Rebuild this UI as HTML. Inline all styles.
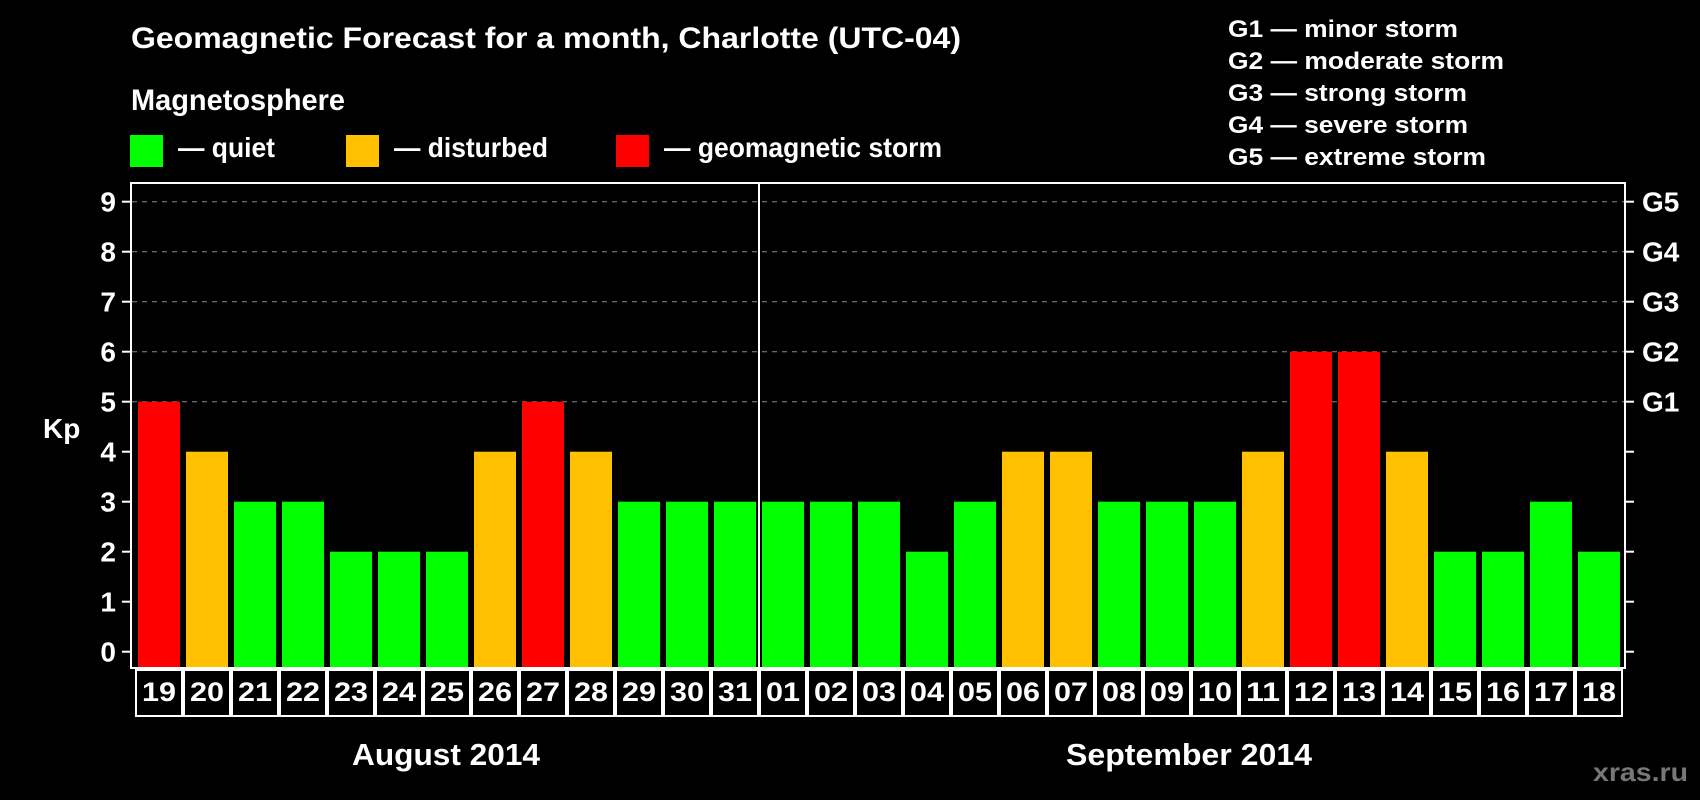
<!DOCTYPE html>
<html><head><meta charset="utf-8"><style>
html,body{margin:0;padding:0;background:#000;}
svg{display:block;font-family:"Liberation Sans",sans-serif;font-weight:bold;}
</style></head><body>
<svg id="chart" width="1700" height="800" viewBox="0 0 1700 800" xmlns="http://www.w3.org/2000/svg">
<rect x="0" y="0" width="1700" height="800" fill="#000"/>
<text x="131" y="48" font-size="30" fill="#fff" textLength="830" lengthAdjust="spacingAndGlyphs">Geomagnetic Forecast for a month, Charlotte (UTC-04)</text>
<text x="131" y="110" font-size="30" fill="#fff" textLength="214" lengthAdjust="spacingAndGlyphs">Magnetosphere</text>
<rect x="130" y="135" width="33" height="32" fill="#00ff00"/>
<text x="178" y="157" font-size="28" fill="#fff" textLength="97" lengthAdjust="spacingAndGlyphs">— quiet</text>
<rect x="346" y="135" width="33" height="32" fill="#ffc000"/>
<text x="394" y="157" font-size="28" fill="#fff" textLength="154" lengthAdjust="spacingAndGlyphs">— disturbed</text>
<rect x="616" y="135" width="33" height="32" fill="#ff0000"/>
<text x="664" y="157" font-size="28" fill="#fff" textLength="278" lengthAdjust="spacingAndGlyphs">— geomagnetic storm</text>
<g font-size="24" fill="#fff">
<text x="1228" y="37" textLength="230" lengthAdjust="spacingAndGlyphs">G1 — minor storm</text>
<text x="1228" y="69" textLength="276" lengthAdjust="spacingAndGlyphs">G2 — moderate storm</text>
<text x="1228" y="101" textLength="239" lengthAdjust="spacingAndGlyphs">G3 — strong storm</text>
<text x="1228" y="133" textLength="240" lengthAdjust="spacingAndGlyphs">G4 — severe storm</text>
<text x="1228" y="165" textLength="258" lengthAdjust="spacingAndGlyphs">G5 — extreme storm</text>
</g>
<text x="43" y="438" font-size="28" fill="#fff">Kp</text>
<g id="grid"></g>
<g id="bars"></g>
<rect x="131" y="183" width="1494" height="485" fill="none" stroke="#fff" stroke-width="2"/>
<line x1="759" y1="183" x2="759" y2="717" stroke="#fff" stroke-width="2"/>
<g id="axes"></g>
<g id="dates"></g>
<text x="446" y="765" font-size="31" fill="#fff" text-anchor="middle" textLength="188" lengthAdjust="spacingAndGlyphs">August 2014</text>
<text x="1189" y="765" font-size="31" fill="#fff" text-anchor="middle" textLength="246" lengthAdjust="spacingAndGlyphs">September 2014</text>
<text x="1593" y="781" font-size="26" fill="#777" textLength="95" lengthAdjust="spacingAndGlyphs">xras.ru</text>
</svg>
<script>
const days = ["19","20","21","22","23","24","25","26","27","28","29","30","31","01","02","03","04","05","06","07","08","09","10","11","12","13","14","15","16","17","18"];
const kpValues = [5,4,3,3,2,2,2,4,5,4,3,3,3,3,3,3,2,3,4,4,3,3,3,4,6,6,4,2,2,3,2];
const yTicks = [0,1,2,3,4,5,6,7,8,9];
const gLabels = ["","","","","","G1","G2","G3","G4","G5"];
const gridLevels = [5,6,7,8,9];

const NS = "http://www.w3.org/2000/svg";
const y0 = 651.7, unit = 50, slot0 = 135, slotW = 48;
function yScale(v){ return y0 - v*unit; }
function xScale(i){ return slot0 + i*slotW; }
function colorFor(v){ return v>=5 ? "#ff0000" : (v>=4 ? "#ffc000" : "#00ff00"); }
function mk(tag, attrs, parent){ const e=document.createElementNS(NS,tag); for(const k in attrs) e.setAttribute(k,attrs[k]); parent.appendChild(e); return e; }

const grid=document.getElementById("grid");
gridLevels.forEach(v=>{
  const l=mk("line",{x1:132,x2:1624,y1:yScale(v),y2:yScale(v),stroke:"#888","stroke-width":1,"stroke-dasharray":"5,5"},grid);
  
  
});

const bars=document.getElementById("bars");
kpValues.forEach((v,i)=>{
  const r=mk("rect",{x:xScale(i)+3,y:yScale(v),width:42,height:668-yScale(v)-1,fill:colorFor(v)},bars);
  
  
});

const axes=document.getElementById("axes");
yTicks.forEach((v,i)=>{
  const y=yScale(v);
  mk("line",{x1:122,x2:131,y1:y,y2:y,stroke:"#fff","stroke-width":2},axes);
  mk("line",{x1:1625,x2:1634,y1:y,y2:y,stroke:"#fff","stroke-width":2},axes);
  const t=mk("text",{x:116,y:y+10,"font-size":28,fill:"#fff","text-anchor":"end"},axes);
  t.textContent=String(v);
  
  
  if(gLabels[i]){
    const g=mk("text",{x:1642,y:y+10,"font-size":28,fill:"#fff"},axes);
    g.textContent=gLabels[i];
    
    
  }
});

const dates=document.getElementById("dates");
days.forEach((d,i)=>{
  const x=xScale(i);
  const b=mk("rect",{x:x+1,y:670,width:46,height:46,fill:"#000",stroke:"#fff","stroke-width":2},dates);
  
  
  const t=mk("text",{x:x+24,y:701,"font-size":27,fill:"#fff","text-anchor":"middle",textLength:34,lengthAdjust:"spacingAndGlyphs"},dates);
  t.textContent=d;
  
  
});
</script>
</body></html>
